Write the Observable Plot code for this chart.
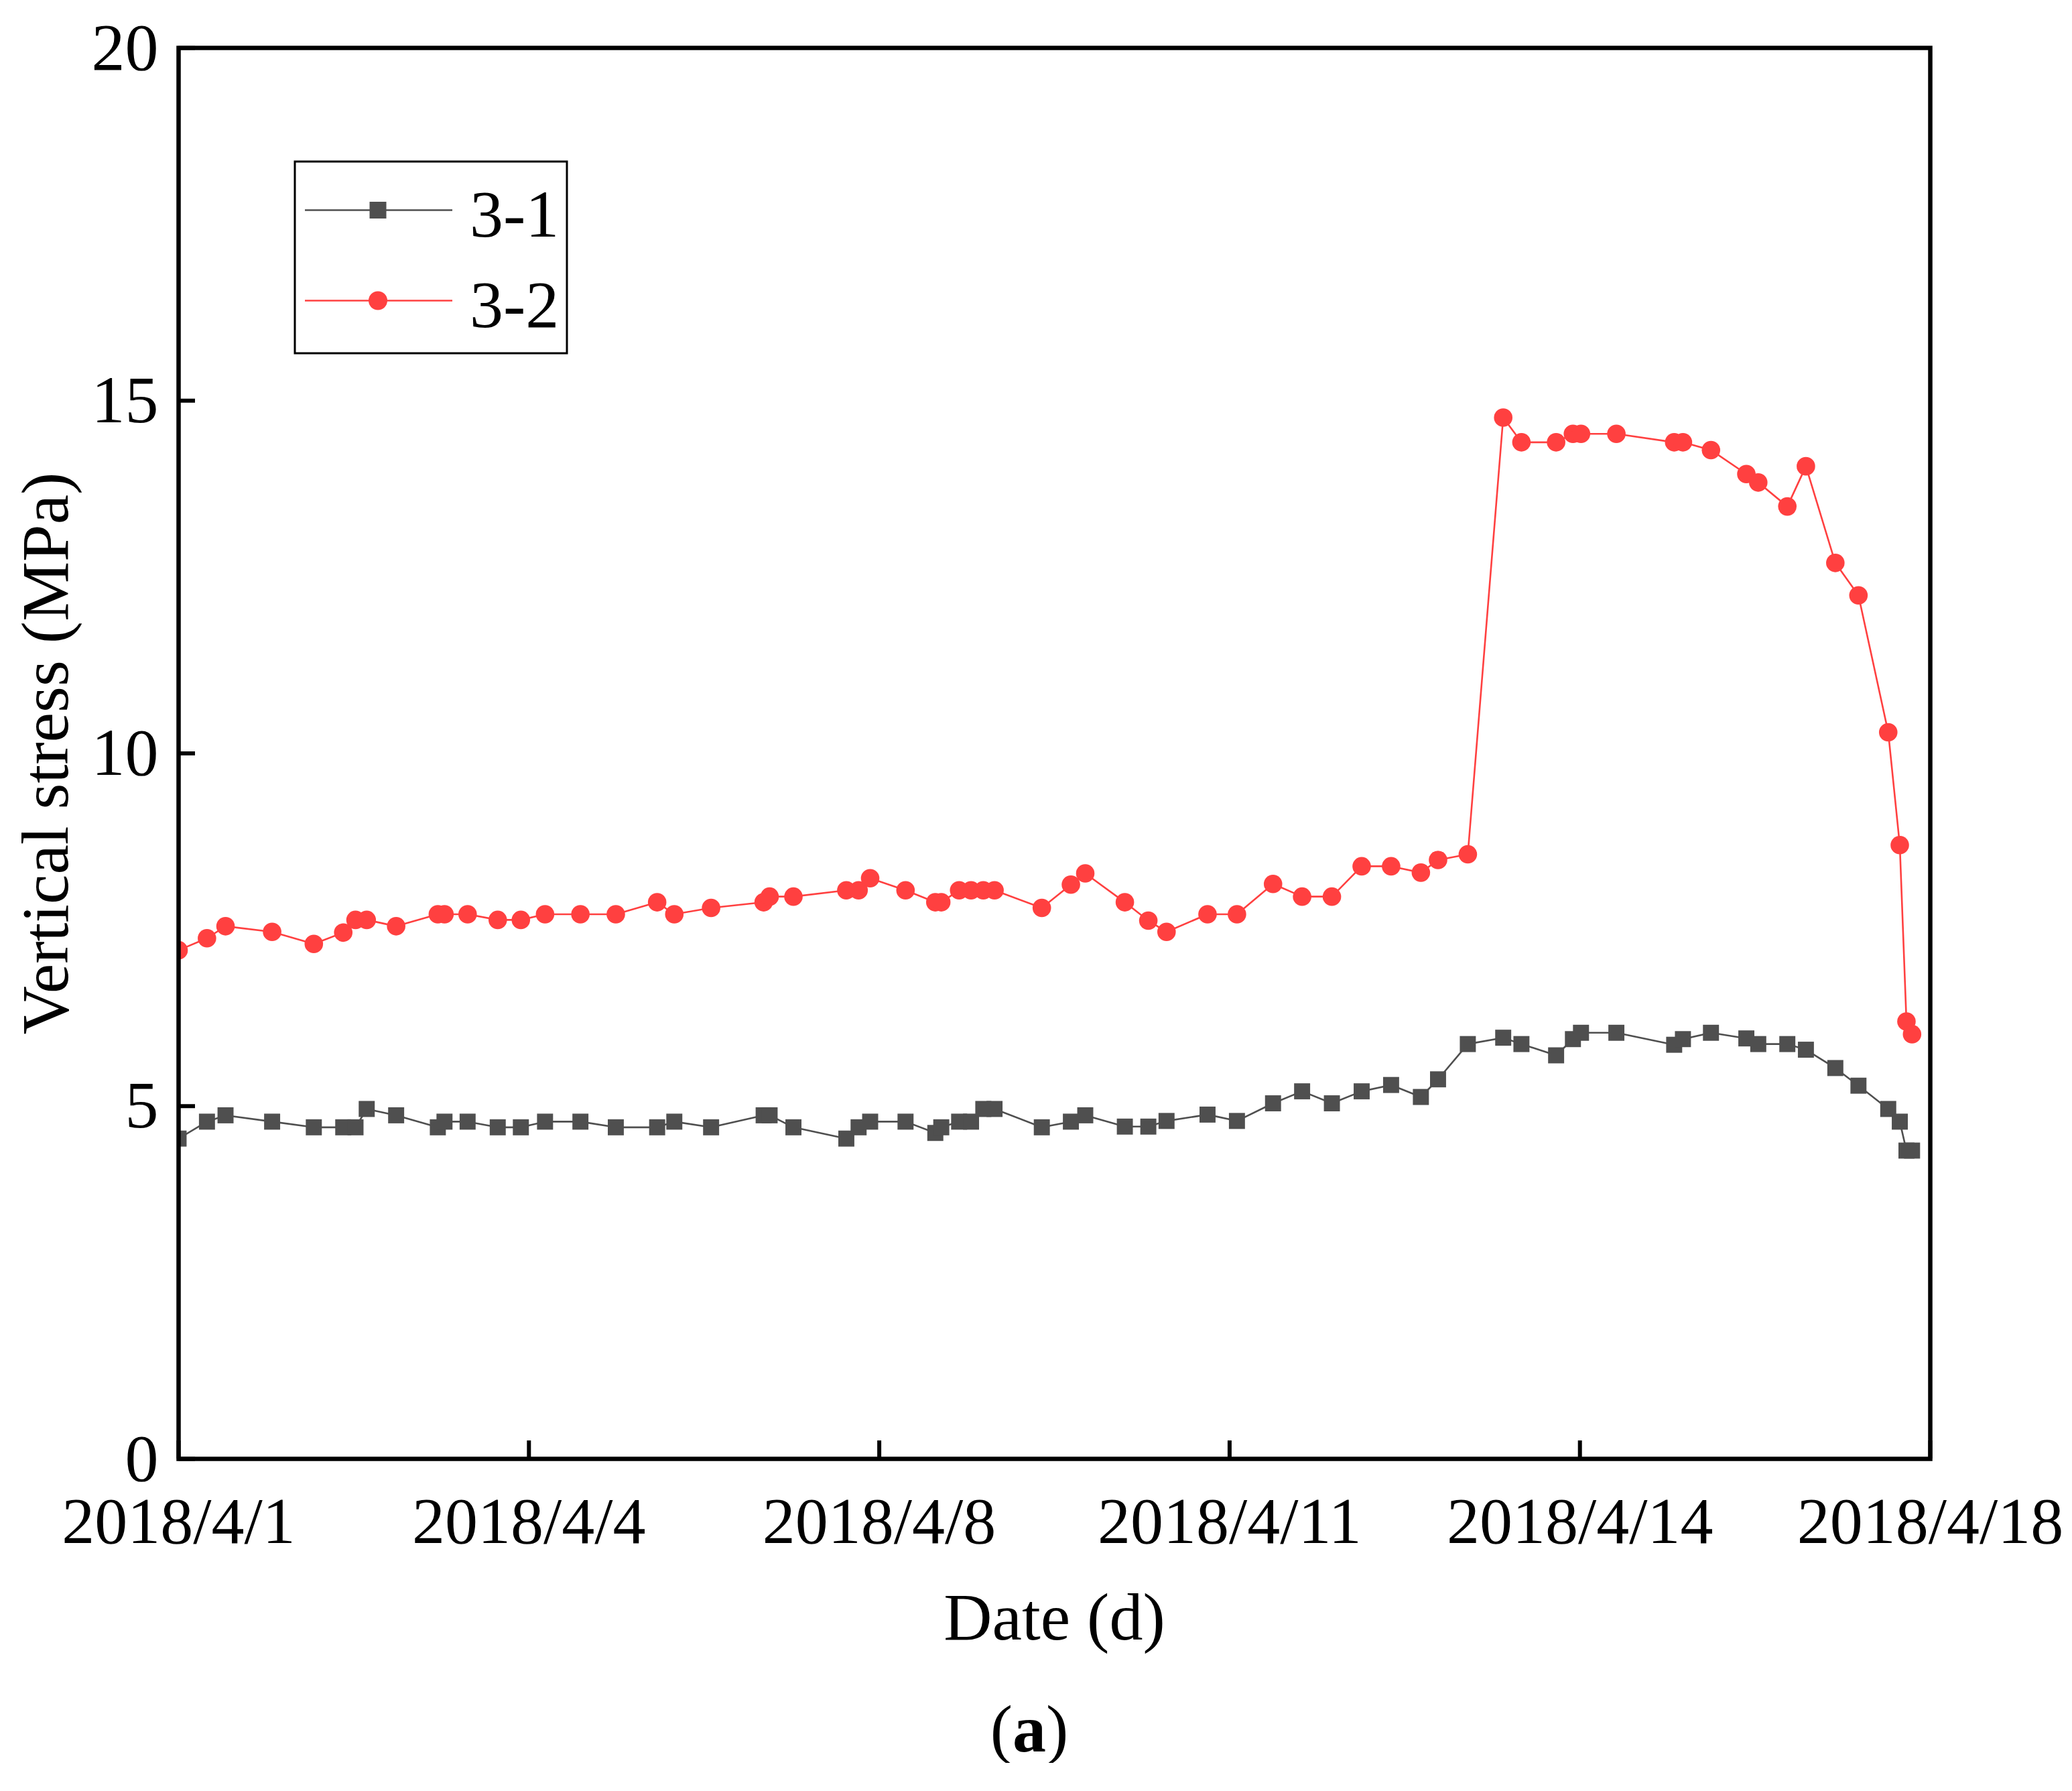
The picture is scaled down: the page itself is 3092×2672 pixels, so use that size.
<!DOCTYPE html>
<html>
<head>
<meta charset="utf-8">
<script src="https://cdn.jsdelivr.net/npm/d3@7"></script>
<script src="https://cdn.jsdelivr.net/npm/@observablehq/plot@0.6"></script>
<style>
  html, body { margin: 0; padding: 0; background: #fff; }
  #wrap { position: relative; width: 3092px; }
  #legend { position: absolute; left: 0; top: 0; pointer-events: none; }
  #caption { width: 3092px; text-align: center; font-family: "Liberation Serif", "Times New Roman", serif; font-size: 100px; line-height: 100px; margin-top: 50px; position: relative; left: -10px; color: #000; }
</style>
</head>
<body>
<div id="wrap"></div>
<div id="caption">(<b>a</b>)</div>
<script>
// Tick labels of the x axis (equally spaced category ticks)
const xTickLabels = ["2018/4/1", "2018/4/4", "2018/4/8", "2018/4/11", "2018/4/14", "2018/4/18"];
const yTicks = [0, 5, 10, 15, 20];

// Sample positions along the x axis, in units of tick intervals (0 = 2018/4/1, 5 = 2018/4/18)
const samplePos = [
  0.000, 0.081, 0.134, 0.267, 0.386, 0.470, 0.505, 0.537, 0.621, 0.740,
  0.759, 0.825, 0.911, 0.977, 1.046, 1.147, 1.248, 1.366, 1.415, 1.520,
  1.670, 1.687, 1.755, 1.906, 1.941, 1.974, 2.075, 2.160, 2.177, 2.228,
  2.262, 2.297, 2.329, 2.464, 2.547, 2.588, 2.701, 2.768, 2.820, 2.937,
  3.021, 3.124, 3.207, 3.292, 3.377, 3.461, 3.546, 3.595, 3.680, 3.781,
  3.833, 3.932, 3.980, 4.003, 4.104, 4.269, 4.294, 4.374, 4.475, 4.509,
  4.592, 4.645, 4.729, 4.795, 4.880, 4.913, 4.932, 4.948
];

// Series 3-1 (MPa)
const stress31 = [
  4.54, 4.78, 4.87, 4.78, 4.70, 4.70, 4.70, 4.96, 4.87, 4.70,
  4.78, 4.78, 4.70, 4.70, 4.78, 4.78, 4.70, 4.70, 4.78, 4.70,
  4.87, 4.87, 4.70, 4.54, 4.70, 4.78, 4.78, 4.62, 4.70, 4.78,
  4.78, 4.96, 4.96, 4.70, 4.78, 4.87, 4.71, 4.71, 4.79, 4.88,
  4.79, 5.04, 5.21, 5.04, 5.21, 5.30, 5.13, 5.38, 5.88, 5.97,
  5.88, 5.72, 5.95, 6.04, 6.04, 5.87, 5.95, 6.04, 5.96, 5.88,
  5.88, 5.80, 5.54, 5.29, 4.96, 4.78, 4.37, 4.37
];

// Series 3-2 (MPa)
const stress32 = [
  7.21, 7.38, 7.55, 7.47, 7.30, 7.46, 7.64, 7.64, 7.55, 7.72,
  7.72, 7.72, 7.64, 7.64, 7.72, 7.72, 7.72, 7.89, 7.72, 7.81,
  7.89, 7.97, 7.97, 8.06, 8.06, 8.23, 8.06, 7.89, 7.89, 8.06,
  8.06, 8.06, 8.06, 7.81, 8.14, 8.30, 7.89, 7.63, 7.47, 7.72,
  7.72, 8.15, 7.97, 7.97, 8.40, 8.40, 8.31, 8.49, 8.57, 14.76,
  14.41, 14.41, 14.53, 14.53, 14.53, 14.41, 14.41, 14.30, 13.96, 13.84,
  13.50, 14.07, 12.70, 12.24, 10.30, 8.70, 6.20, 6.02
];

const seriesNames = ["3-1", "3-2"];
const seriesColors = ["#4f4f4f", "#ff4040"];

const table = samplePos.map((x, i) => ({x, s31: stress31[i], s32: stress32[i]}));

const W = 3092, H = 2480;
const mL = 266, mR = 212, mT = 71, mB = 304;
const plotW = W - mL - mR, plotH = H - mT - mB;
const FONT = "Liberation Serif, Times New Roman, serif";

const chart = Plot.plot({
  width: W,
  height: H,
  marginLeft: mL,
  marginRight: mR,
  marginTop: mT,
  marginBottom: mB,
  style: {fontFamily: FONT, fontSize: "100px", color: "#000", background: "#fff"},
  x: {domain: [0, 5]},
  y: {domain: [0, 20]},
  marks: [
    Plot.axisX({
      ticks: xTickLabels.map((_, i) => i),
      tickFormat: i => xTickLabels[i],
      tickSize: 0, tickPadding: 56, fontSize: 98, fontFamily: FONT, label: null
    }),
    Plot.axisY({
      ticks: yTicks, tickFormat: d => String(d),
      tickSize: 0, tickPadding: 30, fontSize: 100, fontFamily: FONT, label: null
    }),
    // inward ticks
    Plot.ruleX(xTickLabels.map((_, i) => i), {x: d => d, insetTop: plotH - 27, stroke: "#000", strokeWidth: 6}),
    Plot.ruleY(yTicks, {y: d => d, insetRight: plotW - 25, stroke: "#000", strokeWidth: 6}),
    // series 3-1
    Plot.line(table, {x: "x", y: "s31", stroke: seriesColors[0], strokeWidth: 2.6, clip: true}),
    Plot.dot(table, {x: "x", y: "s31", symbol: "square", r: 13.5, fill: seriesColors[0], stroke: "none", clip: true}),
    // series 3-2
    Plot.line(table, {x: "x", y: "s32", stroke: seriesColors[1], strokeWidth: 2.6, clip: true}),
    Plot.dot(table, {x: "x", y: "s32", symbol: "circle", r: 13.8, fill: seriesColors[1], stroke: "none", clip: true}),
    Plot.frame({stroke: "#000", strokeWidth: 6.5}),
    // axis titles
    Plot.text(["Vertical stress (MPa)"], {frameAnchor: "left", rotate: -90, dx: 100 - mL, textAnchor: "middle", lineAnchor: "bottom", fontSize: 100, fontFamily: FONT, fill: "#000"}),
    Plot.text(["Date (d)"], {frameAnchor: "bottom", dy: 2445 - (H - mB), lineAnchor: "bottom", textAnchor: "middle", fontSize: 100, fontFamily: FONT, fill: "#000"})
  ]
});
document.getElementById("wrap").appendChild(chart);

// Legend overlay (drawn as a small SVG on top of the chart)
const NS = "http://www.w3.org/2000/svg";
const leg = document.createElementNS(NS, "svg");
leg.setAttribute("id", "legend");
leg.setAttribute("width", W);
leg.setAttribute("height", H);
function el(tag, attrs, text) {
  const e = document.createElementNS(NS, tag);
  for (const k in attrs) e.setAttribute(k, attrs[k]);
  if (text != null) e.textContent = text;
  leg.appendChild(e);
  return e;
}
el("rect", {x: 440, y: 241, width: 406, height: 286, fill: "#fff", stroke: "#000", "stroke-width": 3});
const rowsY = [313.5, 448.5];
const baseY = [353, 488];
seriesNames.forEach((name, i) => {
  el("line", {x1: 455, x2: 675, y1: rowsY[i], y2: rowsY[i], stroke: seriesColors[i], "stroke-width": 2.6});
  if (i === 0) el("rect", {x: 564 - 12.5, y: rowsY[i] - 12.5, width: 25, height: 25, fill: seriesColors[i]});
  else el("circle", {cx: 564, cy: rowsY[i], r: 14, fill: seriesColors[i]});
  el("text", {x: 701, y: baseY[i], "font-family": FONT, "font-size": 100, fill: "#000"}, name);
});
document.getElementById("wrap").appendChild(leg);
</script>
</body>
</html>
